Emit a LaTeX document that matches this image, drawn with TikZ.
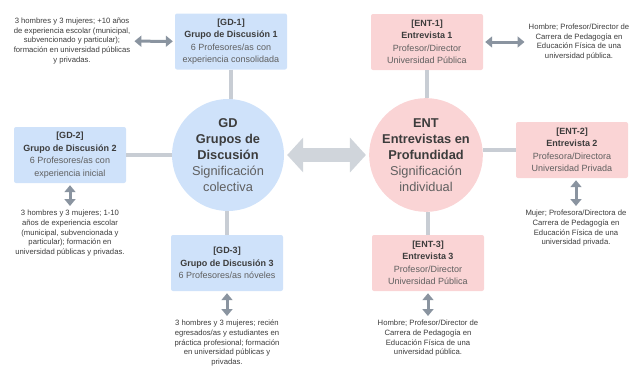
\documentclass[tikz,border=0pt]{standalone}
\usepackage{fontspec}
\setmainfont{Liberation Sans}
\usetikzlibrary{arrows.meta}

\definecolor{gdblue}{RGB}{207,226,250}
\definecolor{entpink}{RGB}{250,212,213}
\definecolor{linkgray}{RGB}{200,205,212}
\definecolor{tipgray}{RGB}{138,148,160}
\definecolor{biggray}{RGB}{208,213,219}
\definecolor{darktext}{RGB}{60,60,60}
\definecolor{softtext}{RGB}{95,95,95}

\newcommand{\soft}[1]{\textcolor{softtext}{#1}}

\tikzstyle{gdbox}=[
    fill=gdblue,
    rounded corners=2pt,
    minimum width=112pt,
    minimum height=56pt,
    inner sep=2pt,
    align=center,
    text=darktext,
    font=\fontsize{9}{12.5}\selectfont,
  ]
\tikzstyle{entbox}=[
    gdbox,
    fill=entpink,
  ]
\tikzstyle{bigcircle}=[
    circle,
    fill=gdblue,
    minimum size=112pt,
    inner sep=0pt,
    align=center,
    text=darktext,
    font=\fontsize{12.8}{16}\selectfont,
  ]
\tikzstyle{note}=[
    align=center,
    inner sep=2pt,
    text=darktext,
    font=\fontsize{7.7}{9.7}\selectfont,
  ]
\tikzstyle{link}=[
    linkgray,
    line width=4pt,
  ]
\tikzstyle{dbl}=[
    {Triangle[width=11pt,length=7pt]}-{Triangle[width=11pt,length=7pt]},
    tipgray,
    line width=3pt,
    shorten <=2pt,
    shorten >=2pt,
  ]
\tikzstyle{bigdbl}=[
    {Triangle[width=34pt,length=16pt]}-{Triangle[width=34pt,length=16pt]},
    biggray,
    line width=14pt,
    shorten <=3pt,
    shorten >=3pt,
  ]

\begin{document}
\begin{tikzpicture}[x=1pt, y=-1pt]
      \useasboundingbox (0,0) rectangle (630,365);
      % centres
      \node[bigcircle] (gd) at (228,155) {\textbf{GD}\\ \textbf{Grupos de}\\ \textbf{Discusi\'on}\\ \soft{Significaci\'on}\\ \soft{colectiva}};
      \node[bigcircle, fill=entpink] (ent) at (426,155) {\textbf{ENT}\\ \textbf{Entrevistas en}\\ \textbf{Profundidad}\\ \soft{Significaci\'on}\\ \soft{individual}};
      % grupos de discusion
      \node[gdbox] (gd1) at (231,41.5) {\textbf{[GD-1]}\\ \textbf{Grupo de Discusi\'on 1}\\ \soft{6 Profesores/as con}\\ \soft{experiencia consolidada}};
      \node[gdbox] (gd2) at (70,155) {\textbf{[GD-2]}\\ \textbf{Grupo de Discusi\'on 2}\\ \soft{6 Profesores/as con}\\ \soft{experiencia inicial}};
      \node[gdbox] (gd3) at (227,263) {\textbf{[GD-3]}\\ \textbf{Grupo de Discusi\'on 3}\\ \soft{6 Profesores/as n\'oveles}};
      % entrevistas
      \node[entbox] (ent1) at (427,42) {\textbf{[ENT-1]}\\ \textbf{Entrevista 1}\\ \soft{Profesor/Director}\\ \soft{Universidad P\'ublica}};
      \node[entbox] (ent2) at (572,150) {\textbf{[ENT-2]}\\ \textbf{Entrevista 2}\\ \soft{Profesora/Directora}\\ \soft{Universidad Privada}};
      \node[entbox] (ent3) at (428,263) {\textbf{[ENT-3]}\\ \textbf{Entrevista 3}\\ \soft{Profesor/Director}\\ \soft{Universidad P\'ublica}};
      % notas
      \node[note] (gd1txt) at (72,41) {3 hombres y 3 mujeres; +10 a\~nos\\ de experiencia escolar (municipal,\\ subvencionado y particular);\\ formaci\'on en universidad p\'ublicas\\ y privadas.};
      \node[note, anchor=north] (gd2txt) at (70,208) {3 hombres y 3 mujeres; 1-10\\ a\~nos de experiencia escolar\\ (municipal, subvencionada y\\ particular); formaci\'on en\\ universidad p\'ublicas y privadas.};
      \node[note, anchor=north] (gd3txt) at (227,318) {3 hombres y 3 mujeres; reci\'en\\ egresados/as y estudiantes en\\ pr\'actica profesional; formaci\'on\\ en universidad p\'ublicas y\\ privadas.};
      \node[note] (ent1txt) at (579,42) {Hombre; Profesor/Director de\\ Carrera de Pedagog\'ia en\\ Educaci\'on F\'isica de una\\ universidad p\'ublica.};
      \node[note, anchor=north] (ent2txt) at (576,208) {Mujer; Profesora/Directora de\\ Carrera de Pedagog\'ia en\\ Educaci\'on F\'isica de una\\ universidad privada.};
      \node[note, anchor=north] (ent3txt) at (428,318) {Hombre; Profesor/Director de\\ Carrera de Pedagog\'ia en\\ Educaci\'on F\'isica de una\\ universidad p\'ublica.};
      % uniones
      \draw[link] (gd1.south) -- (gd1.south |- gd.north);
      \draw[link] (gd2.east) -- (gd2.east -| gd.west);
      \draw[link] (gd3.north) -- (gd3.north |- gd.south);
      \draw[link] (ent1.south) -- (ent1.south |- ent.north);
      \draw[link] (ent2.west) -- (ent2.west -| ent.east);
      \draw[link] (ent3.north) -- (ent3.north |- ent.south);
      \draw[bigdbl] (gd) -- (ent);
      \draw[dbl] (gd1txt) -- (gd1);
      \draw[dbl] (gd2) -- (gd2txt);
      \draw[dbl] (gd3) -- (gd3txt);
      \draw[dbl] (ent1) -- (ent1txt);
      \draw[dbl] (ent2.south -| ent2txt) -- (ent2txt);
      \draw[dbl] (ent3) -- (ent3txt);
    \end{tikzpicture}
\end{document}
